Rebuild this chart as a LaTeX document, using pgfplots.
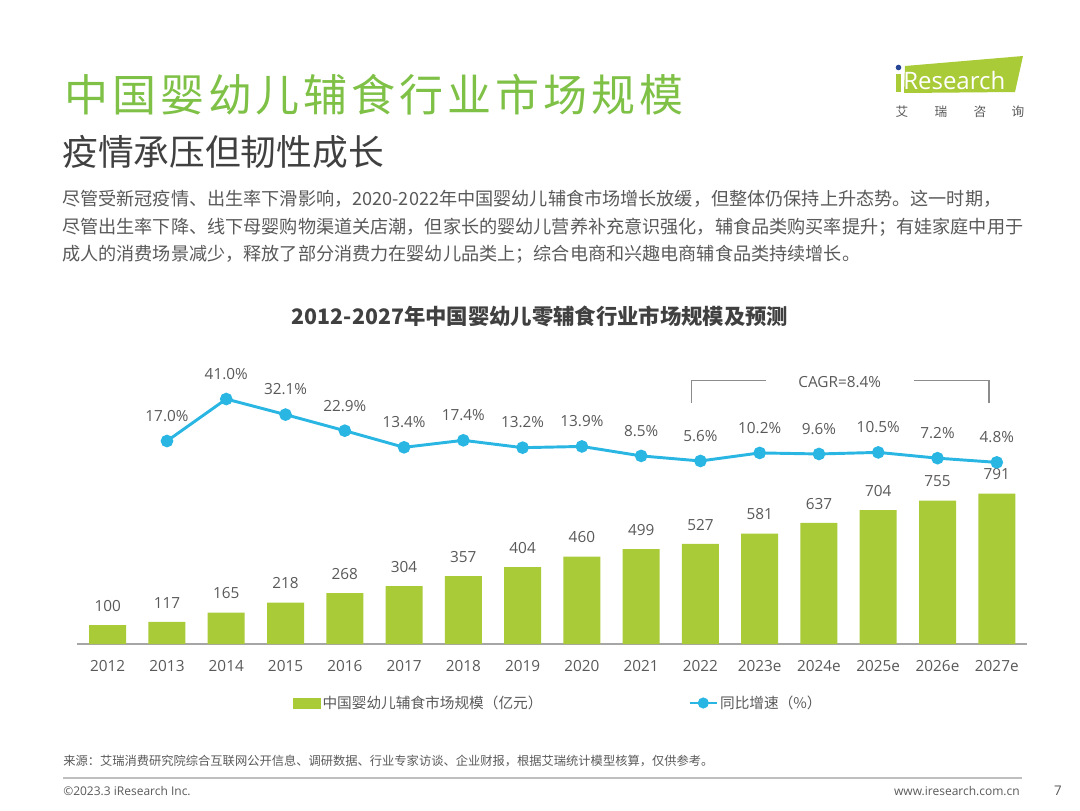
\documentclass[border=0pt]{standalone}
\usepackage{fontspec}
\usepackage{pgfplots}
\usepackage{pgfplotstable}
\pgfplotsset{compat=1.18}
\setmainfont{Noto Sans CJK SC}
\newfontfamily\latin{Open Sans}
\newfontfamily\titlefont[LetterSpace=8.9]{Noto Sans CJK SC}
\definecolor{titlegreen}{RGB}{126,193,70}
\definecolor{bargreen}{RGB}{169,203,56}
\definecolor{linecyan}{RGB}{41,182,227}
\definecolor{txtgray}{RGB}{89,89,89}
\definecolor{darkgray}{RGB}{64,64,64}
\definecolor{axisgray}{RGB}{166,166,166}
\definecolor{logoblue}{RGB}{40,70,150}

\pgfplotstableread{
x val
0 100
1 117
2 165
3 218
4 268
5 304
6 357
7 404
8 460
9 499
10 527
11 581
12 637
13 704
14 755
15 791
}\bars

\pgfplotstableread{
x g
1 17.0
2 41.0
3 32.1
4 22.9
5 13.4
6 17.4
7 13.2
8 13.9
9 8.5
10 5.6
11 10.2
12 9.6
13 10.5
14 7.2
15 4.8
}\growth

\newcommand{\numfont}{\latin\fontsize{11.5}{13}\selectfont}

\begin{document}
\begin{tikzpicture}
\begin{scope}[x=0.75pt,y=-0.75pt]
\useasboundingbox (0,0) rectangle (1080,810);
% titles
\node[anchor=west, inner sep=0, text=titlegreen, font=\titlefont\fontsize{33}{36}\selectfont] at (64,95) {中国婴幼儿辅食行业市场规模};
\node[anchor=west, inner sep=0, text=darkgray, font=\fontsize{26.8}{30}\selectfont] at (62,152) {疫情承压但韧性成长};
% paragraph
\node[anchor=west, inner sep=0, text=txtgray, font=\fontsize{13.6}{16}\selectfont] at (62,199) {\makebox[720pt][s]{尽管受新冠疫情、出生率下滑影响，2020-2022年中国婴幼儿辅食市场增长放缓，但整体仍保持上升态势。这一时期，}};
\node[anchor=west, inner sep=0, text=txtgray, font=\fontsize{13.6}{16}\selectfont] at (62,227) {尽管出生率下降、线下母婴购物渠道关店潮，但家长的婴幼儿营养补充意识强化，辅食品类购买率提升；有娃家庭中用于};
\node[anchor=west, inner sep=0, text=txtgray, font=\fontsize{13.6}{16}\selectfont] at (62,254) {成人的消费场景减少，释放了部分消费力在婴幼儿品类上；综合电商和兴趣电商辅食品类持续增长。};
% chart title
\node[inner sep=0, text=darkgray, font=\bfseries\fontsize{16}{18}\selectfont] at (540,316) {2012-2027年中国婴幼儿零辅食行业市场规模及预测};
% logo
\fill[bargreen] (905,66) -- (1023,56) -- (1015,92) -- (904,93) -- cycle;
\fill[bargreen] (896,74) rectangle (901,92);
\fill[logoblue] (898.5,67.5) circle (2.8);
\node[anchor=west, inner sep=0, text=white, font=\latin\fontsize{18}{20}\selectfont] at (903,80) {Research};
\foreach \xx/\ch in {902/艾,941/瑞,980/咨,1018/询}
  \node[inner sep=0, text=txtgray, font=\fontsize{9.5}{11}\selectfont] at (\xx,112) {\ch};
% source and footer
\node[anchor=west, inner sep=0, text=txtgray, font=\fontsize{9.2}{11}\selectfont] at (63,761) {来源：艾瑞消费研究院综合互联网公开信息、调研数据、行业专家访谈、企业财报，根据艾瑞统计模型核算，仅供参考。};
\draw[color=black!25, line width=1.4pt] (63,778) -- (1022,778);
\node[anchor=west, inner sep=0, text=txtgray, font=\latin\fontsize{9}{11}\selectfont] at (63,791) {©2023.3 iResearch Inc.};
\node[anchor=east, inner sep=0, text=txtgray, font=\latin\fontsize{9}{11}\selectfont] at (1020,791) {www.iresearch.com.cn};
\node[inner sep=0, text=txtgray, font=\latin\fontsize{10}{11}\selectfont] at (1058,791) {7};
\end{scope}

% bars axis
\begin{axis}[
  at={(57.75pt,-483pt)}, anchor=south west,
  scale only axis, width=712.5pt, height=213pt,
  xmin=-0.518, xmax=15.51, ymin=0, ymax=1494.7,
  axis x line*=bottom, axis y line=none,
  axis line style={-},
  x axis line style={-, draw=axisgray, line width=1.2pt},
  xtick={0,...,15},
  xticklabels={2012,2013,2014,2015,2016,2017,2018,2019,2020,2021,2022,2023e,2024e,2025e,2026e,2027e},
  major tick length=0pt,
  xticklabel style={font=\numfont, text=txtgray, anchor=base, inner sep=0pt, yshift=-20.5pt},
  ytick=\empty,
  ybar, bar width=27.75pt,
  /pgf/number format/assume math mode=true,
  nodes near coords,
  nodes near coords style={font=\numfont, text=txtgray, anchor=south, inner sep=0pt, yshift=10pt},
  clip=false,
]
\addplot[fill=bargreen, draw=none] table[x=x,y=val]{\bars};
\end{axis}

% growth axis
\begin{axis}[
  at={(57.75pt,-483pt)}, anchor=south west,
  scale only axis, width=712.5pt, height=213pt,
  xmin=-0.518, xmax=15.51, ymin=-99, ymax=63.29,
  hide axis, clip=false,
  /pgf/number format/assume math mode=true,
  legend columns=2,
  legend style={at={(0.2274,-0.2077)}, anchor=west, draw=none, fill=none,
    font=\fontsize{11}{13}\selectfont, text=txtgray, inner sep=0pt,
    nodes={inner sep=1.5pt},
    /tikz/column 2/.style={column sep=108pt}},
]
\addlegendimage{legend image code/.code={\fill[bargreen] (0pt,-3.75pt) rectangle (20pt,3.75pt);}}
\addlegendentry{中国婴幼儿辅食市场规模（亿元）}
\addplot[color=linecyan, line width=2.2pt, mark=*, mark size=3.6pt,
  mark options={solid, fill=linecyan, draw=linecyan},
  nodes near coords={\pgfmathprintnumber[fixed,fixed zerofill,precision=1]{\pgfplotspointmeta}\%},
  nodes near coords style={font=\numfont, text=txtgray, anchor=south, inner sep=0pt, yshift=13.5pt},
  legend image code/.code={\draw[linecyan, line width=2.2pt] (0pt,0pt) -- (20pt,0pt); \fill[linecyan] (10pt,0pt) circle (3pt);}
] table[x=x,y=g]{\growth};
\addlegendentry{同比增速（\%）}
\draw[black!45, line width=1.1pt] (axis cs:9.853,38.9) |- (axis cs:11.107,51.46);
\draw[black!45, line width=1.1pt] (axis cs:14.87,38.9) |- (axis cs:13.604,51.46);
\node[text=txtgray, font=\numfont, inner sep=0pt] at (axis cs:12.35,50.9) {CAGR=8.4\%};
\end{axis}
\end{tikzpicture}
\end{document}
